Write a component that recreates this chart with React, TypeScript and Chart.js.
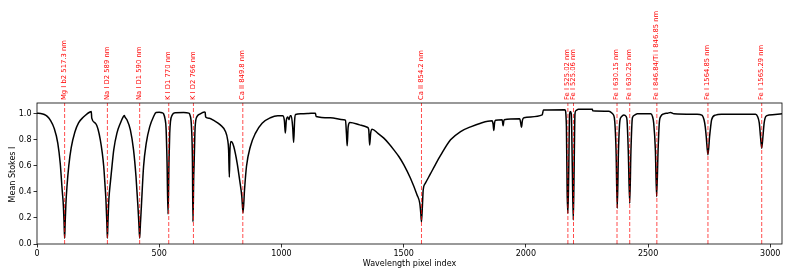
import React, { useEffect, useRef } from "react";
import { Chart, registerables } from "chart.js";

Chart.register(...registerables);

const spectrumIdx: number[] = [
  0, 15, 30, 42, 55, 70, 85, 95, 103, 108, 111, 113, 115, 118, 123, 130, 140, 155, 170, 190, 205, 215, 222, 224,
  239, 250, 259, 267, 273, 278, 282, 286, 288, 290, 294, 300, 304, 314, 327, 341, 352, 357, 360, 368, 382, 395,
  405, 413, 417, 420, 423, 427, 436, 447, 461, 477, 487, 500, 512, 518, 524, 528, 532, 536, 540, 543, 546, 553,
  565, 600, 621, 626, 632, 636, 638, 641, 643, 647, 655, 668, 685, 688, 690, 705, 723, 750, 771, 780, 784, 787,
  789, 793, 797, 805, 819, 829, 838, 843, 849, 857, 873, 894, 921, 955, 985, 1005, 1012, 1016, 1020, 1026, 1031,
  1036, 1040, 1046, 1050, 1054, 1058, 1080, 1110, 1139, 1142, 1200, 1255, 1262, 1266, 1269, 1273, 1280, 1320,
  1351, 1357, 1361, 1365, 1371, 1395, 1419, 1440, 1460, 1481, 1501, 1528, 1555, 1566, 1570, 1573, 1577, 1580,
  1589, 1610, 1630, 1651, 1692, 1733, 1774, 1815, 1862, 1866, 1869, 1872, 1876, 1903, 1907, 1911, 1975, 1979,
  1982, 1986, 1992, 2067, 2072, 2160, 2166, 2169, 2172, 2175, 2179, 2182, 2186, 2190, 2194, 2197, 2201, 2205,
  2215, 2272, 2274, 2340, 2355, 2362, 2369, 2374, 2379, 2385, 2390, 2401, 2410, 2414, 2419, 2425, 2430, 2436,
  2445, 2456, 2511, 2518, 2523, 2530, 2535, 2541, 2546, 2552, 2565, 2580, 2592, 2606, 2700, 2720, 2729, 2734,
  2738, 2745, 2752, 2756, 2760, 2776, 2800, 2940, 2948, 2955, 2960, 2965, 2970, 2975, 2982, 2994, 3048,
];

const spectrumVal: number[] = [
  1.005, 1.003, 0.995, 0.98, 0.95, 0.89, 0.775, 0.62, 0.415, 0.29, 0.15, 0.045, 0.15, 0.3, 0.45, 0.6, 0.74, 0.86,
  0.93, 0.975, 1.0, 1.012, 1.018, 0.967, 0.928, 0.88, 0.8, 0.7, 0.595, 0.46, 0.34, 0.15, 0.045, 0.15, 0.34, 0.47,
  0.544, 0.723, 0.852, 0.928, 0.975, 0.987, 0.975, 0.954, 0.877, 0.723, 0.518, 0.287, 0.15, 0.045, 0.15, 0.287,
  0.595, 0.775, 0.9, 0.979, 1.01, 1.012, 1.008, 1.0, 0.96, 0.89, 0.633, 0.23, 0.63, 0.85, 0.94, 0.99, 1.008, 1.01,
  1.005, 0.99, 0.9, 0.63, 0.17, 0.5, 0.63, 0.9, 0.98, 1.0, 1.013, 1.01, 0.975, 0.965, 0.949, 0.915, 0.864, 0.8,
  0.72, 0.513, 0.7, 0.787, 0.785, 0.749, 0.62, 0.492, 0.364, 0.24, 0.415, 0.595, 0.749, 0.852, 0.928, 0.97, 0.985,
  0.985, 0.95, 0.852, 0.95, 0.975, 0.955, 0.985, 0.985, 0.9, 0.78, 0.95, 0.995, 1.0, 1.002, 1.005, 0.98, 0.97,
  0.954, 0.95, 0.85, 0.754, 0.9, 0.933, 0.915, 0.897, 0.88, 0.76, 0.85, 0.882, 0.85, 0.813, 0.77, 0.723, 0.67,
  0.608, 0.505, 0.377, 0.313, 0.24, 0.17, 0.3, 0.415, 0.467, 0.54, 0.61, 0.68, 0.8, 0.864, 0.9, 0.928, 0.946,
  0.92, 0.872, 0.93, 0.95, 0.955, 0.908, 0.955, 0.962, 0.93, 0.897, 0.95, 0.97, 0.992, 1.03, 1.032, 0.9, 0.4,
  0.236, 0.5, 1.0, 1.018, 1.0, 0.6, 0.185, 0.5, 1.0, 1.025, 1.035, 1.035, 1.023, 1.02, 1.0, 0.97, 0.723, 0.275,
  0.72, 0.95, 0.975, 0.99, 0.98, 0.95, 0.72, 0.313, 0.72, 0.97, 0.99, 1.0, 1.0, 0.98, 0.93, 0.72, 0.364, 0.72,
  0.93, 0.98, 1.0, 1.005, 1.01, 1.0, 0.996, 0.99, 0.954, 0.9, 0.826, 0.685, 0.83, 0.9, 0.954, 0.99, 0.996, 0.996,
  0.98, 0.93, 0.826, 0.736, 0.826, 0.93, 0.98, 0.99, 1.0,
];

const lineIdx: number[] = [113, 288, 420, 539, 640, 842, 1573, 2172, 2195, 2373, 2425, 2536, 2745, 2965];
const lineLabels: string[] = [
  "Mg I b2 517.3 nm",
  "Na I D2 589 nm",
  "Na I D1 590 nm",
  "K I D1 770 nm",
  "K I D2 766 nm",
  "Ca II 849.8 nm",
  "Ca II 854.2 nm",
  "Fe I 525.02 nm",
  "Fe I 525.06 nm",
  "Fe I 630.15 nm",
  "Fe I 630.25 nm",
  "Fe I 846.84/Ti I 846.85 nm",
  "Fe I 1564.85 nm",
  "Fe I 1565.29 nm",
];

const xTicks: number[] = [0, 500, 1000, 1500, 2000, 2500, 3000];
const yTicks: number[] = [0, 0.2, 0.4, 0.6, 0.8, 1.0];
const xMin = 0;
const xMax = 3048;
const yMin = 0;
const yMax = 1.083;
const xTitle = "Wavelength pixel index";
const yTitle = "Mean Stokes I";

const FONT = '"DejaVu Sans", sans-serif';

const overlay = {
  id: "overlay",
  afterDatasetsDraw(chart: any) {
    const { ctx, chartArea, scales } = chart;
    const { left, top, right, bottom } = chartArea;
    const x = scales.x;
    ctx.save();
    ctx.strokeStyle = "#000";
    ctx.lineWidth = 0.8;
    ctx.strokeRect(left, top, right - left, bottom - top);

    ctx.fillStyle = "#ff0000";
    ctx.font = `6.8px ${FONT}`;
    ctx.textAlign = "left";
    ctx.textBaseline = "middle";
    lineIdx.forEach((v, i) => {
      const px = x.getPixelForValue(v);
      ctx.save();
      ctx.translate(px - 0.5, top - 3);
      ctx.rotate(-Math.PI / 2);
      ctx.fillText(lineLabels[i], 0, 0);
      ctx.restore();
    });

    ctx.fillStyle = "#000";
    ctx.font = `8px ${FONT}`;
    ctx.textAlign = "center";
    ctx.textBaseline = "middle";
    ctx.fillText(xTitle, (left + right) / 2, 264);
    ctx.save();
    ctx.translate(13, (top + bottom) / 2 + 1);
    ctx.rotate(-Math.PI / 2);
    ctx.fillText(yTitle, 0, 0);
    ctx.restore();
    ctx.restore();
  },
};

export default function App() {
  const ref = useRef<HTMLCanvasElement | null>(null);
  useEffect(() => {
    if (!ref.current) return;
    const spectrum = spectrumIdx.map((x, i) => ({ x, y: spectrumVal[i] }));
    const vlines = lineIdx.map((v) => ({
      data: [
        { x: v, y: yMin },
        { x: v, y: yMax },
      ],
      borderColor: "rgba(255,0,0,0.7)",
      borderWidth: 1,
      borderDash: [4, 2],
      pointRadius: 0,
      fill: false,
      order: 1,
    }));
    const chart = new Chart(ref.current, {
      type: "line",
      data: {
        datasets: [
          {
            data: spectrum,
            borderColor: "#000",
            borderWidth: 1.5,
            pointRadius: 0,
            fill: false,
            cubicInterpolationMode: "monotone",
            order: 2,
          } as any,
          ...vlines,
        ],
      },
      options: {
        animation: false,
        responsive: false,
        layout: { padding: { left: 0, top: 103, right: 11, bottom: 0 } },
        plugins: { legend: { display: false }, tooltip: { enabled: false } },
        scales: {
          x: {
            type: "linear",
            min: xMin,
            max: xMax,
            afterFit: (s: any) => {
              s.height = 33;
            },
            afterBuildTicks: (s: any) => {
              s.ticks = xTicks.map((v) => ({ value: v }));
            },
            border: { display: false },
            grid: { display: true, drawOnChartArea: false, drawTicks: true, tickLength: 3.5, color: "#000", lineWidth: 0.8 },
            ticks: { color: "#000", font: { family: FONT, size: 8 }, padding: 2, maxRotation: 0, callback: (v: any) => String(v) },
          },
          y: {
            type: "linear",
            min: yMin,
            max: yMax,
            afterFit: (s: any) => {
              s.width = 37;
            },
            afterBuildTicks: (s: any) => {
              s.ticks = yTicks.map((v) => ({ value: v }));
            },
            border: { display: false },
            grid: { display: true, drawOnChartArea: false, drawTicks: true, tickLength: 3.5, color: "#000", lineWidth: 0.8 },
            ticks: { color: "#000", font: { family: FONT, size: 8 }, padding: 2, callback: (v: any) => Number(v).toFixed(1) },
          },
        },
      },
      plugins: [overlay],
    });
    return () => chart.destroy();
  }, []);
  return (
    <div style={{ position: "fixed", left: 0, top: 0, width: 793, height: 277, background: "#fff" }}>
      <canvas ref={ref} width={793} height={277} style={{ display: "block" }} />
    </div>
  );
}
